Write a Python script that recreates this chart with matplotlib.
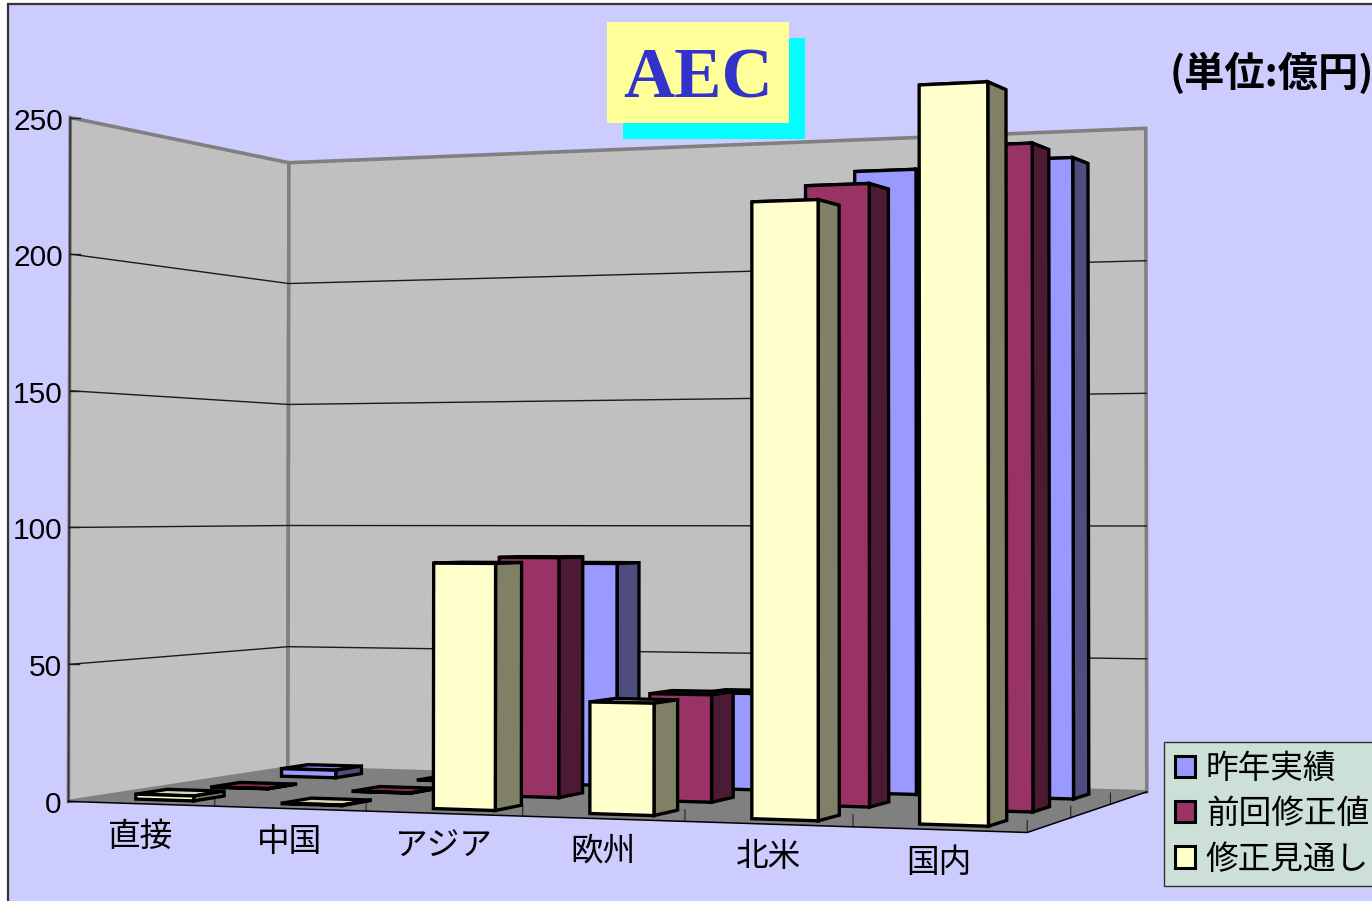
import numpy as np
import matplotlib
matplotlib.use("Agg")
import matplotlib.pyplot as plt
from matplotlib.patches import Polygon, Rectangle, Patch

categories = ["直接", "中国", "アジア", "欧州", "北米", "国内"]
series_names = ["昨年実績", "前回修正値", "修正見通し"]
last_year = [3.0, 0.1, 85.6, 36.5, 233.5, 235.7]
previous = [0.1, 0.1, 88.6, 39.0, 223.0, 235.2]
revised = [1.8, 0.2, 87.3, 39.0, 212.3, 250.0]
series_values = [last_year, previous, revised]
y_ticks = [0, 50, 100, 150, 200, 250]

face_colors = ["#9999FF", "#993366", "#FFFFCC"]
side_colors = ["#4D4D80", "#4D1A33", "#808066"]
top_colors = ["#8080E6", "#802B55", "#D9D9AD"]
# depth slot of each series, 1 = back wall, 0 = front edge
slot = [2, 1, 0]

CJK = ["Noto Sans CJK JP", "DejaVu Sans"]
plt.rcParams["font.family"] = ["Liberation Sans", "Noto Sans CJK JP", "DejaVu Sans"]

# Calibration of the chart's perspective: (category, depth, value) -> pixel
anchors = [
    ((0, 0, 0), (70, 800)), ((1, 0, 0), (213, 808)), ((2, 0, 0), (366, 813)),
    ((3, 0, 0), (521, 820)), ((4, 0, 0), (685, 820)), ((5, 0, 0), (853, 827)),
    ((6, 0, 0), (1028, 832)), ((6, 1/3, 0), (1070, 817)), ((6, 2/3, 0), (1110, 803)),
    ((6, 1, 0), (1148, 790)), ((0, 1, 0), (288, 768)), ((0, 0, 250), (70, 118)),
    ((0, 1, 250), (289, 163)), ((6, 1, 250), (1146, 129)),
    ((0, 0, 100), (70, 526)), ((0, 1, 100), (288, 526)), ((6, 1, 100), (1147, 526)),
    ((0, 0, 200), (70, 253)), ((0, 0, 50), (70, 663)), ((0, 1, 200), (288, 283)),
    ((0, 1, 50), (288, 647)), ((6, 1, 50), (1146, 660)), ((6, 1, 200), (1146, 261)),
]
rows = []
for (X, Y, Z), (u, v) in anchors:
    Z = Z / 250
    rows.append([X, Y, Z, 1, 0, 0, 0, 0, -u*X, -u*Y, -u*Z, -u])
    rows.append([0, 0, 0, 0, X, Y, Z, 1, -v*X, -v*Y, -v*Z, -v])
P = np.linalg.svd(np.array(rows, float))[2][-1].reshape(3, 4)


def proj(x, y, z):
    h = P @ np.array([x, y, z / 250, 1.0])
    return h[0] / h[2], h[1] / h[2]


fig = plt.figure(figsize=(13.72, 9.01), dpi=100, facecolor="white")
ax = fig.add_axes([0, 0, 1, 1])
ax.set_xlim(0, 1372)
ax.set_ylim(901, 0)
ax.axis("off")

ax.add_patch(Rectangle((8, 4), 1400, 920, fc="#CCCCFF", ec="#333333", lw=1.6, zorder=0))


def poly(pts, fc, ec, lw, z):
    ax.add_patch(Polygon([proj(*p) for p in pts], closed=True, fc=fc, ec=ec, lw=lw,
                         joinstyle="miter", zorder=z))


# walls and floor
poly([(0, 0, 0), (0, 1, 0), (0, 1, 250), (0, 0, 250)], "#C0C0C0", "#808080", 2.6, 1)
poly([(0, 1, 0), (6, 1, 0), (6, 1, 250), (0, 1, 250)], "#C0C0C0", "#808080", 2.6, 1)
for t in y_ticks[1:-1]:
    xs, ys = zip(proj(0, 0, t), proj(0, 1, t), proj(6, 1, t))
    ax.plot(xs, ys, color="#1A1A1A", lw=1.0, zorder=2)
xs, ys = zip(proj(0, 0, 0), proj(0, 0, 250))
ax.plot(xs, ys, color="#333333", lw=1.2, zorder=2)
for t in y_ticks:
    u, v = proj(0, 0, t)
    ax.plot([u, u + 10], [v, v], color="#1A1A1A", lw=1.0, zorder=2.5)
poly([(0, 0, 0), (6, 0, 0), (6, 1, 0), (0, 1, 0)], "#808080", "none", 0, 3)
xs, ys = zip(proj(0, 0, 0), proj(6, 0, 0), proj(6, 1, 0))
ax.plot(xs, ys, color="black", lw=1.1, zorder=3.5)
for c in range(1, 7):
    xs, ys = zip(proj(c, 0, 0), proj(c, 0, 4))
    ax.plot(xs, ys, color="#222222", lw=0.8, zorder=3.4)
for d in (1/3, 2/3):
    xs, ys = zip(proj(6, d, 0), proj(6, d, 4))
    ax.plot(xs, ys, color="#222222", lw=0.8, zorder=3.4)

# bars, back series first
zo = 4
for s in range(3):
    y0 = (slot[s] + 0.3) / 3
    y1 = (slot[s] + 0.7) / 3
    for c, val in enumerate(series_values[s]):
        x0, x1 = c + 0.3, c + 0.7
        poly([(x0, y0, val), (x1, y0, val), (x1, y1, val), (x0, y1, val)], top_colors[s], "black", 2.4, zo)
        poly([(x1, y0, 0), (x1, y1, 0), (x1, y1, val), (x1, y0, val)], side_colors[s], "black", 2.4, zo + .1)
        poly([(x0, y0, 0), (x1, y0, 0), (x1, y0, val), (x0, y0, val)], face_colors[s], "black", 2.4, zo + .2)
        zo += 1

# axis labels
for t in y_ticks:
    u, v = proj(0, 0, t)
    ax.text(u - 7, v + 4, str(t), ha="right", va="center", fontsize=21.5, color="black", zorder=40)
for c, name in enumerate(categories):
    u, v = proj(c + 0.5, 0, 0)
    ax.text(u, v + 33, name, ha="center", va="center", fontsize=23.5, family=CJK, color="black", zorder=40)

# title box
ax.add_patch(Rectangle((623, 38), 182, 101, fc="#00FFFF", ec="none", zorder=50))
ax.add_patch(Rectangle((607, 22), 182, 101, fc="#FFFF99", ec="none", zorder=51))
ax.text(698, 80, "AEC", ha="center", va="center", fontsize=51, fontweight="bold",
        family="Liberation Serif", color="#3333CC", zorder=52)
ax.text(1170, 74, "(単位:億円)", ha="left", va="center", fontsize=29, fontweight="bold",
        family=CJK, color="black", zorder=52)

# legend
handles = [Patch(fc=f, ec="black", lw=2.2) for f in face_colors]
leg = ax.legend(handles, series_names, loc="upper left",
                bbox_to_anchor=(1164 / 1372, 1 - 742 / 901), bbox_transform=fig.transFigure,
                prop={"family": CJK, "size": 23.5}, handlelength=0.62, handleheight=0.62,
                handletextpad=0.33, labelspacing=0.41, borderaxespad=0, borderpad=0.33,
                fancybox=False, framealpha=1, facecolor="#CCE0D8", edgecolor="#333333")
leg.set_zorder(60)
leg.get_frame().set_linewidth(1.0)

fig.savefig("out.png", dpi=100, facecolor="white")
